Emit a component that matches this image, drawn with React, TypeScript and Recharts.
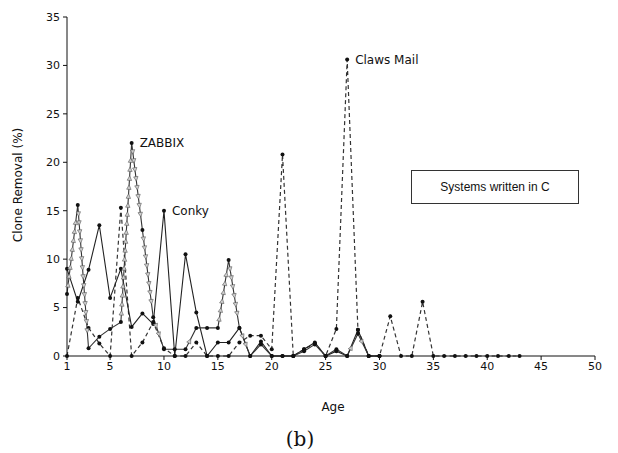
import React from "react";
import {
  LineChart,
  Line,
  XAxis,
  YAxis,
} from "recharts";

const ages = [
  1, 2, 3, 4, 5, 6, 7, 8, 9, 10, 11, 12, 13, 14, 15, 16, 17, 18, 19, 20, 21, 22,
  23, 24, 25, 26, 27, 28, 29, 30, 31, 32, 33, 34, 35, 36, 37, 38, 39, 40, 41, 42, 43,
];

const clawsMail = [
  0, 6, 2.9, 1.3, 0, 15.3, 0, 1.4, 3.5, 0.8, 0, 0, 1.4, 0, 0, 0, 1.4, 2.1, 2.1, 0.7,
  20.8, 0, 0.7, 1.3, 0, 2.8, 30.6, 2.7, 0, 0, 4.1, 0, 0, 5.6, 0, 0, 0, 0, 0, 0, 0, 0, 0,
];

const zabbix = [
  6.4, 15.6, 0.8, 2, 2.8, 3.5, 22, 13, 4, 0.7, 0.7, 0.7, 2.9, 2.9, 2.9, 9.9, 2.9, 0,
  1.2, 0, 0, 0, 0.5, 1.2, 0, 0.7, 0, 2.3, 0, 0,
];

const conky = [
  9, 5.6, 8.9, 13.5, 6, 9, 3, 4.4, 3.3, 15, 0, 10.5, 4.5, 0, 1.4, 1.4, 2.9, 0, 1.5,
  0, 0, 0, 0.7, 1.4, 0, 0.5, 0, 2.7, 0, 0,
];

const xTicks = [1, 5, 10, 15, 20, 25, 30, 35, 40, 45, 50];
const yTicks = [0, 5, 10, 15, 20, 25, 30, 35];

const data = ages.map((age, i) => ({
  age,
  claws: clawsMail[i] ?? null,
  zabbix: zabbix[i] ?? null,
  conky: conky[i] ?? null,
}));

const tickStyle = { fontSize: 11, fill: "#111", fontFamily: "DejaVu Sans" };

const plainDot = (props: any) => {
  const { cx, cy, index } = props;
  if (cx == null || cy == null) return <g key={`d-${index}`} />;
  return <circle key={`d-${index}`} cx={cx} cy={cy} r={2} fill="#111" />;
};

// black dot plus small arrowheads running along the segment to the next point
const arrowDot = (props: any) => {
  const { cx, cy, index, points } = props;
  if (cx == null || cy == null) return <g key={`a-${index}`} />;
  const marks: React.ReactNode[] = [];
  const next = points?.[index + 1];
  if (next && next.y != null && next.x != null) {
    const dx = next.x - cx;
    const dy = next.y - cy;
    const len = Math.hypot(dx, dy);
    if (Math.abs(dy) > 10) {
      const ux = dx / len;
      const uy = dy / len;
      const step = 9;
      const n = Math.floor(len / step);
      for (let k = 1; k < n; k++) {
        const px = cx + ux * k * step;
        const py = cy + uy * k * step;
        const tip = `${px + ux * 2.5},${py + uy * 2.5}`;
        const l = `${px - ux * 2 - uy * 2.2},${py - uy * 2 + ux * 2.2}`;
        const r = `${px - ux * 2 + uy * 2.2},${py - uy * 2 - ux * 2.2}`;
        marks.push(
          <polygon
            key={k}
            points={`${l} ${tip} ${r}`}
            fill="#d0d0d0"
            stroke="#555"
            strokeWidth={0.6}
          />
        );
      }
    }
  }
  return (
    <g key={`a-${index}`}>
      {marks}
      <circle cx={cx} cy={cy} r={2} fill="#111" />
    </g>
  );
};

const nameLabel = (name: string, atIndex: number) => (props: any) => {
  const { x, y, index } = props;
  if (index !== atIndex) return null;
  return (
    <text
      key={`lbl-${name}`}
      x={x + 8}
      y={y + 4}
      fontSize={12}
      fontFamily="DejaVu Sans"
      fill="#111"
    >
      {name}
    </text>
  );
};

export default function App() {
  return (
    <div
      style={{
        position: "fixed",
        left: 0,
        top: 0,
        width: 618,
        height: 453,
        background: "#fff",
      }}
    >
      <LineChart
        width={618}
        height={453}
        data={data}
        margin={{ top: 17, right: 23, bottom: 77, left: 37 }}
      >
        <XAxis
          dataKey="age"
          type="number"
          domain={[1, 50]}
          ticks={xTicks}
          interval={0}
          tick={tickStyle}
          tickSize={4}
          tickMargin={2}
          height={20}
          axisLine={{ stroke: "#111" }}
          tickLine={{ stroke: "#111" }}
        />
        <YAxis
          domain={[0, 35]}
          ticks={yTicks}
          interval={0}
          tick={tickStyle}
          tickSize={4}
          tickMargin={3}
          width={30}
          axisLine={{ stroke: "#111" }}
          tickLine={{ stroke: "#111" }}
        />
        <Line
          dataKey="claws"
          stroke="#333"
          strokeWidth={1.2}
          strokeDasharray="4 3"
          dot={plainDot}
          activeDot={false}
          connectNulls={false}
          label={nameLabel("Claws Mail", 26)}
          isAnimationActive={false}
        />
        <Line
          dataKey="conky"
          stroke="#222"
          strokeWidth={1.1}
          dot={plainDot}
          activeDot={false}
          label={nameLabel("Conky", 9)}
          isAnimationActive={false}
        />
        <Line
          dataKey="zabbix"
          stroke="#333"
          strokeWidth={1.1}
          dot={arrowDot}
          activeDot={false}
          label={nameLabel("ZABBIX", 6)}
          isAnimationActive={false}
        />
      </LineChart>
      <div
        style={{
          position: "absolute",
          left: 18,
          top: 185,
          transform: "translate(-50%, -50%) rotate(-90deg)",
          whiteSpace: "nowrap",
          fontFamily: "DejaVu Sans",
          fontSize: 12,
          color: "#111",
        }}
      >
        Clone Removal (%)
      </div>
      <div
        style={{
          position: "absolute",
          left: 333,
          top: 407,
          transform: "translate(-50%, -50%)",
          fontFamily: "DejaVu Sans",
          fontSize: 12,
          color: "#111",
        }}
      >
        Age
      </div>
      <div
        style={{
          position: "absolute",
          left: 300,
          top: 439,
          transform: "translate(-50%, -50%)",
          fontFamily: "DejaVu Serif",
          fontSize: 20,
          color: "#111",
        }}
      >
        (b)
      </div>
      <div
        style={{
          position: "absolute",
          left: 411,
          top: 170,
          width: 168,
          height: 34,
          border: "1px solid #333",
          boxSizing: "border-box",
          display: "flex",
          alignItems: "center",
          justifyContent: "center",
          fontFamily: "Liberation Sans",
          fontSize: 12,
          color: "#111",
        }}
      >
        Systems written in C
      </div>
    </div>
  );
}
